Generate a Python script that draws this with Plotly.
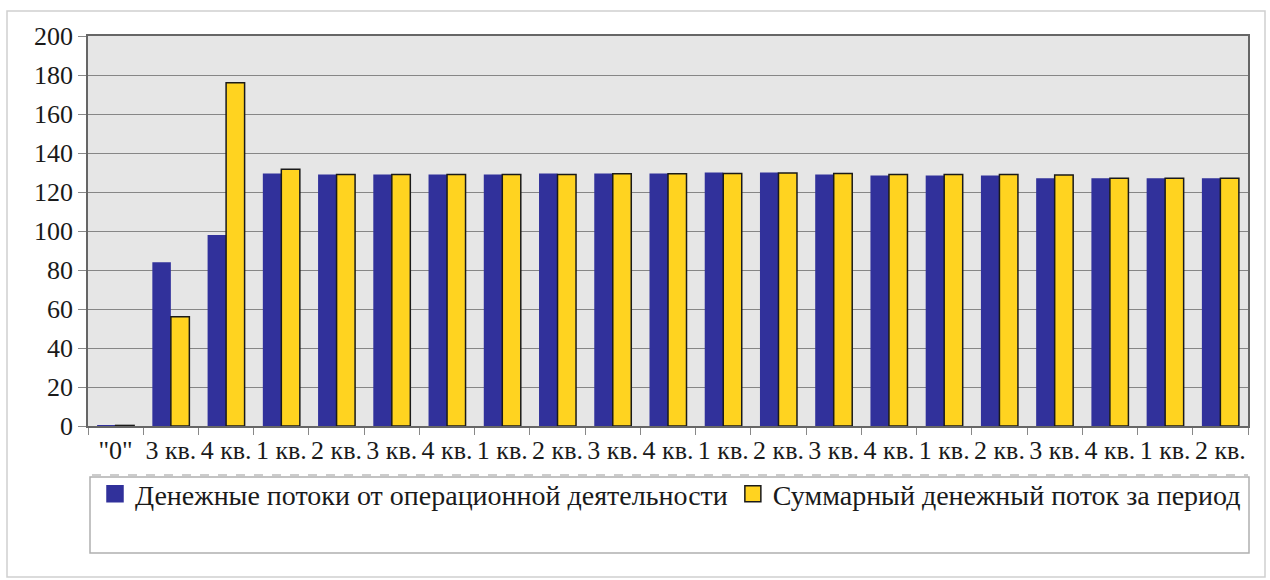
import plotly.graph_objects as go

categories = ['"0"', "3 кв.", "4 кв.", "1 кв.", "2 кв.", "3 кв.", "4 кв.", "1 кв.", "2 кв.", "3 кв.", "4 кв.",
              "1 кв.", "2 кв.", "3 кв.", "4 кв.", "1 кв.", "2 кв.", "3 кв.", "4 кв.", "1 кв.", "2 кв."]
operating_cf = [0.3, 84, 98, 129.5, 129, 129, 129, 129, 129.5, 129.5, 129.5,
                130, 130, 129, 128.5, 128.5, 128.5, 127, 127, 127, 127]
total_cf = [0.3, 56, 176, 131.7, 129, 129, 129, 129, 129, 129.3, 129.3,
            129.5, 129.7, 129.5, 129, 129, 129, 128.7, 127, 127, 127]
y_ticks = [0, 20, 40, 60, 80, 100, 120, 140, 160, 180, 200]

series_names = ["Денежные потоки от операционной деятельности", "Суммарный денежный поток за период"]
series_colors = ["#31319b", "#ffd320"]
series_outline = ["#31319b", "#1a1a1a"]

x = list(range(len(categories)))
FONT = "Liberation Serif"

fig = go.Figure()
fig.add_trace(go.Bar(x=x, y=operating_cf, name=series_names[0], legendgroup="a", showlegend=False,
                     marker=dict(color=series_colors[0], line=dict(width=0))))
fig.add_trace(go.Bar(x=x, y=total_cf, name=series_names[1], legendgroup="b", showlegend=False,
                     marker=dict(color=series_colors[1], line=dict(color=series_outline[1], width=1.5))))
# legend swatches (larger squares, like the original legend)
for name, grp, col, oc in zip(series_names, ["a", "b"], series_colors, series_outline):
    fig.add_trace(go.Scatter(x=[None], y=[None], mode="markers", name=name, legendgroup=grp,
                             marker=dict(symbol="square", size=16, color=col, line=dict(color=oc, width=1.5))))

W, H = 1270, 580
L, R, T, B = 88, 22, 36, 154
pw, ph = W - L - R, H - T - B

def px(v):
    return (v - L) / pw

def py(v):
    return (H - B - v) / ph

fig.update_layout(
    width=W, height=H,
    margin=dict(l=L, r=R, t=T, b=B),
    paper_bgcolor="white",
    plot_bgcolor="#e6e6e6",
    barmode="group",
    bargap=0.33,
    bargroupgap=0,
    font=dict(family=FONT, size=26, color="#1a1a1a"),
    showlegend=True,
    legend=dict(orientation="h", x=px(95), y=py(469), xanchor="left", yanchor="top",
                bgcolor="rgba(0,0,0,0)", borderwidth=0, font=dict(size=28, family=FONT, color="#1a1a1a"),
                itemsizing="trace", traceorder="normal", itemwidth=30),
    shapes=[
        dict(type="rect", xref="paper", yref="paper", x0=px(7), x1=px(1265), y0=py(577), y1=py(11),
             line=dict(color="#d0d0d0", width=1.5), fillcolor="rgba(0,0,0,0)", layer="below"),
        dict(type="rect", xref="paper", yref="paper", x0=px(90), x1=px(1249), y0=py(553), y1=py(477),
             line=dict(color="#b0b0b0", width=1.5), fillcolor="rgba(0,0,0,0)"),
        dict(type="line", xref="paper", yref="paper", x0=px(92), x1=px(1248), y0=py(475), y1=py(475),
             line=dict(color="#999999", width=1, dash="dash")),
    ],
)

fig.update_xaxes(
    range=[-0.5, len(categories) - 0.5],
    tickmode="array", tickvals=x, ticktext=categories,
    ticks="", tickfont=dict(size=26, family=FONT),
    showgrid=False, zeroline=False,
    showline=True, linecolor="#666666", linewidth=1.5, mirror=True,
    minor=dict(tick0=-0.5, dtick=1, ticks="outside", ticklen=7, tickcolor="#888888", showgrid=False),
)
fig.update_yaxes(
    range=[0, 200], tickmode="array", tickvals=y_ticks,
    ticks="outside", ticklen=8, tickcolor="#888888",
    tickfont=dict(size=26, family=FONT),
    showgrid=True, gridcolor="#868686", gridwidth=1,
    zeroline=False,
    showline=True, linecolor="#666666", linewidth=1.5, mirror=True,
)

fig.write_html("out.html")
